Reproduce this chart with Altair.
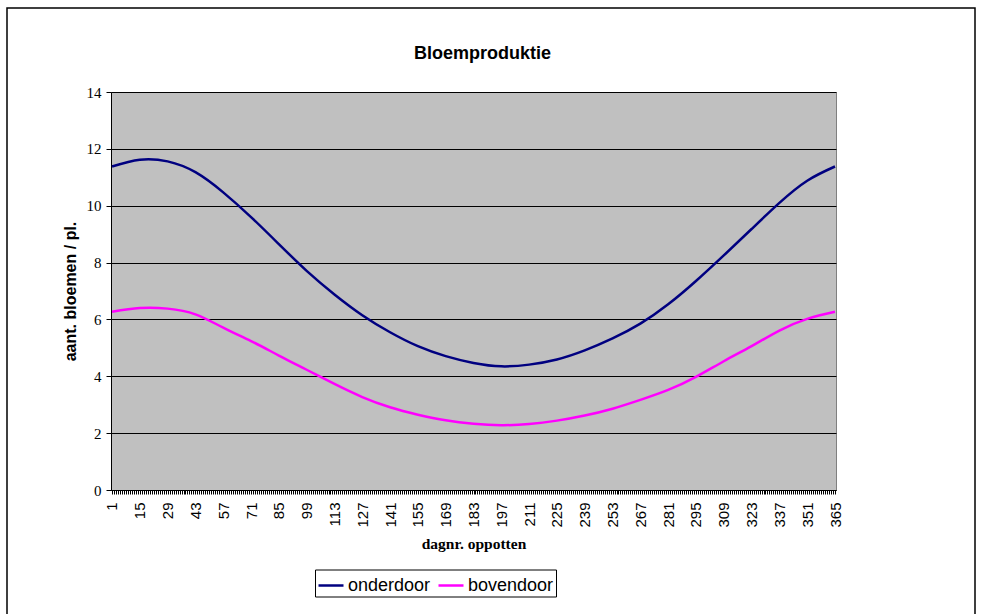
import altair as alt
import pandas as pd

# Day numbers carrying an axis label, and the flower counts read at those days
days = [1, 15, 29, 43, 57, 71, 85, 99, 113, 127, 141, 155, 169, 183,
        197, 211, 225, 239, 253, 267, 281, 295, 309, 323, 337, 351, 365]
onderdoor = [11.38, 11.62, 11.56, 11.18, 10.47, 9.60, 8.65, 7.71, 6.88, 6.15,
             5.55, 5.06, 4.71, 4.47, 4.35, 4.41, 4.59, 4.91, 5.33, 5.85,
             6.53, 7.35, 8.25, 9.18, 10.10, 10.88, 11.38]
bovendoor = [6.27, 6.40, 6.38, 6.18, 5.71, 5.24, 4.73, 4.23, 3.73, 3.27,
             2.91, 2.65, 2.45, 2.33, 2.28, 2.32, 2.44, 2.62, 2.86, 3.17,
             3.52, 3.98, 4.53, 5.06, 5.61, 6.02, 6.27]
series = ["onderdoor", "bovendoor"]
colors = ["#000080", "#FF00FF"]
all_days = list(range(1, 366))
y_ticks = [0, 2, 4, 6, 8, 10, 12, 14]

df = pd.concat([
    pd.DataFrame({"dag": days, "bloemen": onderdoor, "serie": series[0]}),
    pd.DataFrame({"dag": days, "bloemen": bovendoor, "serie": series[1]}),
])

SANS = "Liberation Sans"
SERIF = "Liberation Serif"

lines = alt.Chart(df).mark_line(interpolate="natural", strokeWidth=2.5).encode(
    x=alt.X(
        "dag:Q",
        scale=alt.Scale(domain=[0.5, 365.5], nice=False, zero=False),
        axis=alt.Axis(
            values=all_days,
            labelExpr="(datum.value - 1) % 14 == 0 ? datum.label : ''",
            labelAngle=270,
            labelFont=SANS,
            labelFontSize=15,
            labelColor="black",
            labelPadding=8,
            labelOverlap=False,
            labelFlush=False,
            tickSize=4,
            tickColor="black",
            domainColor="black",
            grid=False,
            title="dagnr. oppotten",
            titleFont=SERIF,
            titleFontSize=15.5,
            titleFontWeight="bold",
            titleColor="black",
            titleBaseline="alphabetic",
            titleY=58,
        ),
    ),
    y=alt.Y(
        "bloemen:Q",
        scale=alt.Scale(domain=[0, 14], nice=False),
        axis=alt.Axis(
            values=y_ticks,
            labelFont=SERIF,
            labelFontSize=15,
            labelColor="black",
            labelPadding=5,
            tickSize=5,
            tickColor="black",
            domainColor="black",
            grid=True,
            gridColor="black",
            gridWidth=1,
            title="aant. bloemen / pl.",
            titleFont=SANS,
            titleFontSize=16,
            titleFontWeight="bold",
            titleColor="black",
            titleBaseline="alphabetic",
            titleX=-36,
        ),
    ),
    color=alt.Color(
        "serie:N",
        scale=alt.Scale(domain=series, range=colors),
        sort=series,
        legend=alt.Legend(
            title=None,
            orient="none",
            legendX=204,
            legendY=477.5,
            direction="horizontal",
            symbolType="stroke",
            symbolSize=625,
            symbolStrokeWidth=2.5,
            labelFont=SANS,
            labelFontSize=18,
            labelColor="black",
            labelOffset=3,
            columnPadding=2,
            padding=2,
            strokeColor="black",
            fillColor="white",
        ),
    ),
)

# Border around the whole chart (its lower edge runs past the page)
frame = alt.Chart(alt.Data(values=[{}])).mark_rect(
    filled=False, stroke="black", strokeWidth=1.5
).encode(
    x=alt.value(-104), x2=alt.value(864), y=alt.value(-84), y2=alt.value(530)
)

chart = alt.layer(frame, lines).properties(
    width=725,
    height=398,
    padding={"left": 111, "top": 92, "right": 147, "bottom": 124},
    autosize=alt.AutoSizeParams(type="none"),
    background="white",
    title=alt.TitleParams(
        "Bloemproduktie",
        font=SANS,
        fontSize=18,
        fontWeight="bold",
        color="black",
        anchor="middle",
        frame="group",
        baseline="alphabetic",
        offset=0,
        dx=9,
        dy=70,
    ),
).configure_view(fill="#C0C0C0", stroke="#808080", strokeWidth=1)

chart.save("out.html", embed_options={"renderer": "svg", "actions": False})
